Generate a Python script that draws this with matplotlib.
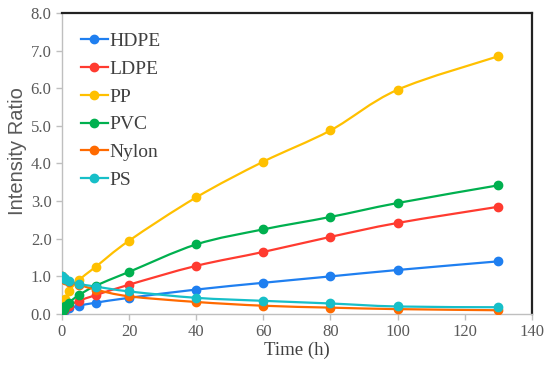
import matplotlib.pyplot as plt
from matplotlib.path import Path
from matplotlib.patches import PathPatch
from matplotlib.lines import Line2D
from matplotlib.ticker import FormatStrFormatter

# time points (h)
time_h = [0, 0.5, 1, 2, 5, 10, 20, 40, 60, 80, 100, 130]

hdpe = [0.05, 0.08, 0.11, 0.15, 0.22, 0.30, 0.43, 0.65, 0.83, 1.00, 1.17, 1.40]
ldpe = [0.05, 0.10, 0.15, 0.22, 0.35, 0.50, 0.78, 1.28, 1.65, 2.05, 2.42, 2.85]
pp = [0.10, 0.25, 0.40, 0.60, 0.90, 1.25, 1.95, 3.10, 4.05, 4.88, 5.96, 6.85]
pvc = [0.05, 0.12, 0.20, 0.30, 0.50, 0.75, 1.12, 1.85, 2.25, 2.58, 2.95, 3.42]
nylon = [1.00, 0.95, 0.90, 0.85, 0.78, 0.65, 0.47, 0.32, 0.22, 0.17, 0.13, 0.10]
ps = [1.00, 0.97, 0.93, 0.88, 0.80, 0.73, 0.60, 0.43, 0.35, 0.28, 0.20, 0.18]

names = ['HDPE', 'LDPE', 'PP', 'PVC', 'Nylon', 'PS']
series = [hdpe, ldpe, pp, pvc, nylon, ps]
colors = ['#1f7ff0', '#ff3b30', '#ffc000', '#00b04f', '#ff6a00', '#17bfc8']

serif = 'Liberation Serif'


def smooth_path(x, y):
    # Excel-style smoothed line: Catmull-Rom segments as cubic Beziers
    verts = [(x[0], y[0])]
    codes = [Path.MOVETO]
    n = len(x)
    for i in range(n - 1):
        x0, y0 = (x[i - 1], y[i - 1]) if i > 0 else (x[i], y[i])
        x1, y1 = x[i], y[i]
        x2, y2 = x[i + 1], y[i + 1]
        x3, y3 = (x[i + 2], y[i + 2]) if i + 2 < n else (x2, y2)
        c1 = (x1 + (x2 - x0) / 6, y1 + (y2 - y0) / 6)
        c2 = (x2 - (x3 - x1) / 6, y2 - (y3 - y1) / 6)
        verts += [c1, c2, (x2, y2)]
        codes += [Path.CURVE4] * 3
    return Path(verts, codes)


fig = plt.figure(figsize=(5.5, 3.71), dpi=100)
ax = fig.add_axes([0.1127, 0.1536, 0.8543, 0.8114])

handles = []
for name, vals, c in zip(names, series, colors):
    ax.add_patch(PathPatch(smooth_path(time_h, vals), facecolor='none',
                           edgecolor=c, lw=1.6, zorder=2))
    ax.plot(time_h, vals, 'o', color=c, markersize=6, zorder=3)
    handles.append(Line2D([], [], color=c, lw=1.6, marker='o', markersize=6))

ax.set_xlim(0, 140)
ax.set_ylim(0, 8)
ax.set_xticks(range(0, 141, 20))
ax.set_yticks(range(0, 9))
ax.yaxis.set_major_formatter(FormatStrFormatter('%.1f'))

for side in ['left', 'bottom']:
    ax.spines[side].set_color('#bfbfbf')
    ax.spines[side].set_linewidth(1.0)
for side in ['top', 'right']:
    ax.spines[side].set_color('#222222')
    ax.spines[side].set_linewidth(1.6)

ax.tick_params(axis='both', colors='#bfbfbf', labelcolor='#595959',
               length=4, width=1.0, labelsize=12, direction='out')
for label in ax.get_xticklabels() + ax.get_yticklabels():
    label.set_fontfamily(serif)

ax.set_xlabel('Time (h)', fontfamily=serif, fontsize=13.5, color='#404040', labelpad=1)
ax.set_ylabel('Intensity Ratio', fontfamily='Liberation Sans', fontsize=14.5, color='#595959')
ax.yaxis.set_label_coords(-0.075, 0.54)

ax.legend(handles, names, loc='upper left', bbox_to_anchor=(0.04, 0.935), frameon=False,
          prop={'family': serif, 'size': 14}, labelcolor='#404040',
          handlelength=1.4, handletextpad=0.05, labelspacing=0.52, borderaxespad=0.0,
          borderpad=0.0)

plt.savefig('out.png', dpi=100)
